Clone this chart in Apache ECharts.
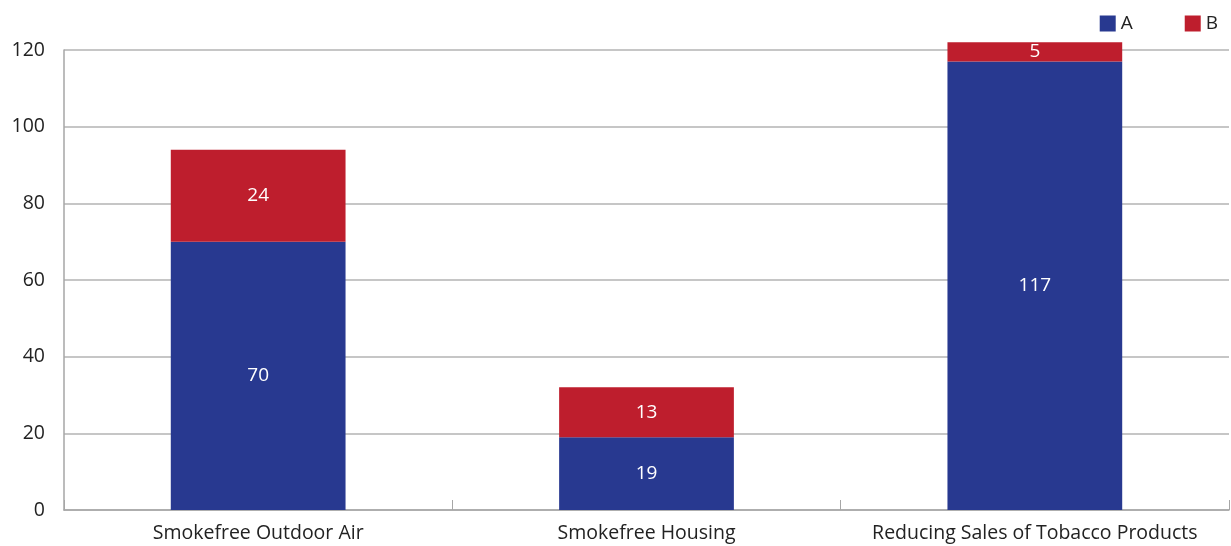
<!DOCTYPE html>
<html><head><meta charset="utf-8">
<script src="https://cdn.jsdelivr.net/npm/echarts@6/dist/echarts.min.js"></script>
<style>html,body{margin:0;padding:0;background:#fff}#c{width:1231px;height:546px}</style>
</head><body><div id="c"></div>
<script>
const categories = ["Smokefree Outdoor Air", "Smokefree Housing", "Reducing Sales of Tobacco Products"];
const seriesA = [70, 19, 117];
const seriesB = [24, 13, 5];
const yTicks = [0, 20, 40, 60, 80, 100, 120];

const FONT = "Open Sans";
const chart = echarts.init(document.getElementById('c'));
const lbl = {show: true, position: 'inside', color: '#fff', fontFamily: FONT, fontSize: 19};
chart.setOption({
  animation: false,
  textStyle: {fontFamily: FONT},
  legend: {
    right: 8, top: 9, itemWidth: 16, itemHeight: 16, itemGap: 52,
    icon: 'rect',
    textStyle: {fontFamily: FONT, fontSize: 19, color: '#222'},
    data: ['A', 'B']
  },
  grid: {left: 64, right: 2, top: 50, bottom: 36, containLabel: false},
  xAxis: {
    type: 'category', data: categories,
    axisLine: {lineStyle: {color: '#a6a6a6', width: 1.5}},
    axisTick: {show: true, inside: true, length: 10, interval: 0, lineStyle: {color: '#a6a6a6'}},
    axisLabel: {color: '#222', fontFamily: FONT, fontSize: 19.5, margin: 13, interval: 0}
  },
  yAxis: {
    type: 'value', min: yTicks[0], max: yTicks[yTicks.length - 1], interval: 20,
    axisLine: {show: true, lineStyle: {color: '#a6a6a6', width: 1.5}},
    axisTick: {show: false},
    splitLine: {lineStyle: {color: '#b3b3b3', width: 1.5}},
    axisLabel: {color: '#222', fontFamily: FONT, fontSize: 19.5, margin: 19}
  },
  series: [
    {name: 'A', type: 'bar', stack: 's', data: seriesA, barWidth: '45%', clip: false,
     itemStyle: {color: '#283990'}, label: lbl},
    {name: 'B', type: 'bar', stack: 's', data: seriesB, barWidth: '45%', clip: false,
     itemStyle: {color: '#be1e2d'}, label: lbl}
  ]
});
</script></body></html>
